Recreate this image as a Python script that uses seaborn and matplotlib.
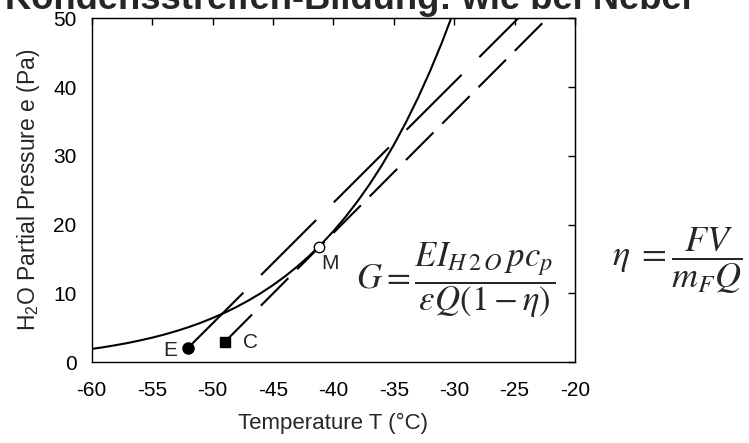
import matplotlib
matplotlib.use("Agg")
import matplotlib.pyplot as plt
import numpy as np
import pandas as pd
import seaborn as sns

# ---- data ----
temp_curve = [-60, -59, -58, -57, -56, -55, -54, -53, -52, -51, -50, -49, -48, -47, -46,
              -45, -44, -43, -42, -41, -40, -39, -38, -37, -36, -35, -34, -33, -32, -31, -30]
e_sat = [1.90, 2.16, 2.45, 2.77, 3.14, 3.54, 3.99, 4.50, 5.06, 5.69, 6.39, 7.16, 8.02, 8.97,
         10.02, 11.18, 12.46, 13.87, 15.42, 17.14, 19.02, 21.09, 23.37, 25.86, 28.58, 31.57,
         34.84, 38.41, 42.30, 46.54, 51.17]
line_E_T = [-52.0, -24.7]
line_E_e = [2.1, 50.0]
line_C_T = [-49.0, -22.3]
line_C_e = [2.9, 50.0]
point_labels = ["E", "C", "M"]
point_T = [-52.0, -49.0, -41.2]
point_e = [2.1, 2.9, 16.8]
x_ticks = [-60, -55, -50, -45, -40, -35, -30, -25, -20]
y_ticks = [0, 10, 20, 30, 40, 50]
title_text = "Kondensstreifen-Bildung: wie bei Nebel"
x_label = "Temperature T (°C)"
y_label = r"H$_2$O Partial Pressure e (Pa)"

sns.set_style("white")
plt.rcParams["font.family"] = ["Liberation Sans", "DejaVu Sans"]
plt.rcParams["axes.unicode_minus"] = False
plt.rcParams["lines.scale_dashes"] = False
plt.rcParams["mathtext.fontset"] = "custom"
plt.rcParams["mathtext.rm"] = "Liberation Sans"
plt.rcParams["mathtext.it"] = "Liberation Sans:italic"

fig = plt.figure(figsize=(7.49, 4.43), dpi=100)
ax = fig.add_axes([91.7 / 749, 1 - 362 / 443, (575 - 91.7) / 749, (362 - 18.3) / 443])

df_curve = pd.DataFrame({"T": temp_curve, "e": e_sat})
sns.lineplot(data=df_curve, x="T", y="e", ax=ax, color="black", lw=1.5)

df_E = pd.DataFrame({"T": line_E_T, "e": line_E_e})
sns.lineplot(data=df_E, x="T", y="e", ax=ax, color="black", lw=1.5)
ax.lines[-1].set_dashes([56, 18])

df_C = pd.DataFrame({"T": line_C_T, "e": line_C_e})
sns.lineplot(data=df_C, x="T", y="e", ax=ax, color="black", lw=1.5)
ax.lines[-1].set_dashes([28, 9])

markers = {"E": ("o", "black", 8), "C": ("s", "black", 7), "M": ("o", "white", 7.5)}
offsets = {"E": (-13, -2), "C": (19, 0), "M": (8, -12)}
for lab, t, e in zip(point_labels, point_T, point_e):
    m, fc, ms = markers[lab]
    ax.plot([t], [e], marker=m, markersize=ms, markerfacecolor=fc,
            markeredgecolor="black", markeredgewidth=1.0, linestyle="none",
            zorder=5, clip_on=False)
    ax.annotate(lab, (t, e), xytext=offsets[lab], textcoords="offset points",
                ha="center", va="center", fontsize=15)

ax.set_xlim(-60, -20)
ax.set_ylim(0, 50)
ax.set_xticks(x_ticks)
ax.set_yticks(y_ticks)
ax.set_xticklabels([str(v) for v in x_ticks])
ax.set_yticklabels([str(v) for v in y_ticks])
ax.tick_params(axis="both", direction="out", length=3, width=1, labelsize=15,
               colors="black")
ax.tick_params(axis="x", pad=11)
ax.tick_params(axis="y", pad=8)
for s in ax.spines.values():
    s.set_color("black")
    s.set_linewidth(1.0)

secx = ax.secondary_xaxis("top")
secx.set_xticks(x_ticks)
secx.tick_params(direction="in", length=5, width=1, colors="black")
secx.set_xticklabels([])
secy = ax.secondary_yaxis("right")
secy.set_yticks(y_ticks)
secy.tick_params(direction="in", length=5, width=1, colors="black")
secy.set_yticklabels([])

ax.set_xlabel(x_label, fontsize=16, labelpad=9)
ax.set_ylabel(y_label, fontsize=16.5, labelpad=8)

fig.text(0.007, 1 - 9 / 443, title_text, fontsize=26.2, fontweight="bold",
         ha="left", va="baseline")

fig.text(456 / 749, 1 - 280 / 443,
         r"$G=\dfrac{EI_{H\,2\,O}\,pc_p}{\varepsilon Q(1-\eta)}$",
         fontsize=25, ha="center", va="center", math_fontfamily="stix")
fig.text(677 / 749, 1 - 261 / 443,
         r"$\eta\;=\dfrac{FV}{m_FQ}$",
         fontsize=26, ha="center", va="center", math_fontfamily="stix")

fig.savefig("out.png", dpi=100)
